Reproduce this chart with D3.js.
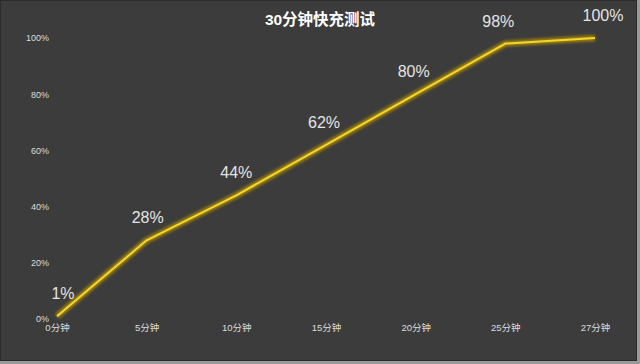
<!DOCTYPE html>
<html>
<head>
<meta charset="utf-8">
<script src="https://cdn.jsdelivr.net/npm/d3@7"></script>
<style>
  html, body { margin: 0; padding: 0; background: #9a9a9a; }
  svg { display: block; }
</style>
</head>
<body>
<div id="chart"></div>
<script>
// chart data
let categories = ['0分钟', '5分钟', '10分钟', '15分钟', '20分钟', '25分钟', '27分钟'];
let values = [1, 28, 44, 62, 80, 98, 100];
let yTicks = [0, 20, 40, 60, 80, 100];
let title = '30分钟快充测试';

let width = 640,
    height = 364,
    margin = { top: 38, bottom: 45, left: 57, right: 45 };

let svg = d3.select('#chart')
  .append('svg')
    .attr('width', width)
    .attr('height', height);

// dark panel with a thin frame
svg.append('rect')
  .attr('x', 0.5)
  .attr('y', 0.5)
  .attr('width', 636)
  .attr('height', 360)
  .attr('fill', '#3c3c3c')
  .attr('stroke', '#2c2c2c');

let font = '"Liberation Sans", "Noto Sans CJK SC", sans-serif';

// scales
let xScale = d3.scalePoint()
  .domain(categories)
  .range([margin.left, width - margin.right]);

let yScale = d3.scaleLinear()
  .domain([0, 100])
  .range([319, 38]);

// y axis labels (no line, no ticks)
let yAxis = d3.axisLeft(yScale)
  .tickValues(yTicks)
  .tickFormat(d => d + '%')
  .tickSize(0)
  .tickPadding(0);

let yg = svg.append('g')
  .attr('transform', 'translate(49,0)')
  .call(yAxis);
yg.select('.domain').remove();
yg.selectAll('text')
  .attr('fill', '#dcdcdc')
  .style('font-family', font)
  .style('font-size', '9px');

// x axis labels
let xAxis = d3.axisBottom(xScale)
  .tickSize(0)
  .tickPadding(0);

let xg = svg.append('g')
  .attr('transform', 'translate(0,324)')
  .call(xAxis);
xg.select('.domain').remove();
xg.selectAll('text')
  .attr('fill', '#dcdcdc')
  .style('font-family', font)
  .style('font-size', '9.5px');

// line with glow
let line = d3.line()
  .x((d, i) => xScale(categories[i]))
  .y(d => yScale(d));

let defs = svg.append('defs');
let glow = defs.append('filter')
  .attr('id', 'glow')
  .attr('x', '-10%').attr('y', '-10%')
  .attr('width', '120%').attr('height', '120%');
glow.append('feGaussianBlur')
  .attr('stdDeviation', 1.6);

svg.append('path')
  .datum(values)
  .attr('d', line)
  .attr('fill', 'none')
  .attr('stroke', '#a88a08')
  .attr('stroke-width', 6)
  .attr('stroke-linejoin', 'round')
  .attr('filter', 'url(#glow)')
  .attr('opacity', 0.9);

svg.append('path')
  .datum(values)
  .attr('d', line)
  .attr('fill', 'none')
  .attr('stroke', '#f7d52a')
  .attr('stroke-width', 2)
  .attr('stroke-linejoin', 'round');

// value labels
let dx = [6, 1, 0, -2, -2, -7, 8];
svg.append('g')
  .selectAll('text')
  .data(values)
  .enter()
  .append('text')
  .attr('x', (d, i) => xScale(categories[i]) + dx[i])
  .attr('y', d => yScale(d) - 17)
  .attr('text-anchor', 'middle')
  .attr('fill', '#e4e4e4')
  .style('font-family', font)
  .style('font-size', '16px')
  .text(d => d + '%');

// title
svg.append('text')
  .attr('x', 320)
  .attr('y', 25)
  .attr('text-anchor', 'middle')
  .attr('fill', '#ffffff')
  .style('font-family', font)
  .style('font-weight', 'bold')
  .style('font-size', '15.5px')
  .text(title);
</script>
</body>
</html>
